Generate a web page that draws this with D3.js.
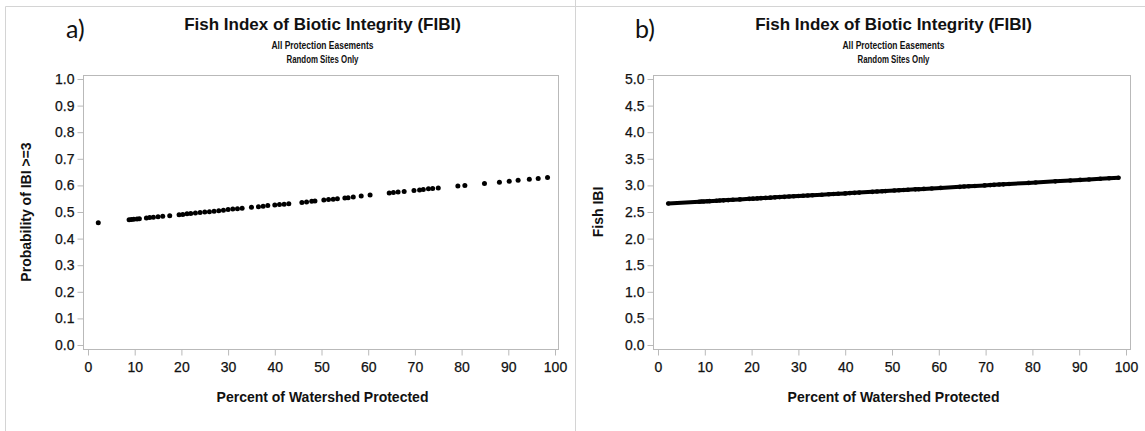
<!DOCTYPE html>
<html>
<head>
<meta charset="utf-8">
<script src="https://cdn.jsdelivr.net/npm/d3@7"></script>
<style>
  html, body { margin: 0; padding: 0; background: #fff; }
  svg { display: block; }
  text { font-family: "Liberation Sans", Arial, sans-serif; fill: #111; }
</style>
</head>
<body>
<svg id="chart" width="1145" height="431"></svg>
<script>
// ---- data ----
const pctProtected = [2.2, 8.8, 9.3, 9.8, 10.5, 11, 12.5, 13.2, 14, 15, 16, 17.5, 19.5, 20.3, 21.2, 22, 23, 24, 25, 26, 27, 28, 29, 30, 31, 32, 33, 35, 36.5, 37.5, 38.5, 40, 41, 42, 43, 45.8, 46.8, 47.9, 48.6, 50.5, 51.5, 52.5, 53.4, 55, 55.7, 56.8, 58.5, 60.4, 64.5, 65.4, 66.4, 67.7, 69.8, 71, 71.8, 72.9, 73.8, 75, 79.2, 80.7, 84.9, 88.1, 90.2, 92.1, 94.5, 96.4, 98.4];
const probIBI = [0.460, 0.471, 0.472, 0.473, 0.474, 0.475, 0.477, 0.479, 0.480, 0.482, 0.484, 0.486, 0.490, 0.491, 0.493, 0.494, 0.496, 0.498, 0.500, 0.501, 0.503, 0.505, 0.507, 0.509, 0.511, 0.512, 0.514, 0.518, 0.520, 0.522, 0.524, 0.526, 0.528, 0.529, 0.531, 0.536, 0.538, 0.540, 0.541, 0.545, 0.547, 0.548, 0.550, 0.553, 0.554, 0.556, 0.560, 0.564, 0.571, 0.573, 0.575, 0.577, 0.581, 0.583, 0.585, 0.587, 0.588, 0.590, 0.598, 0.600, 0.607, 0.612, 0.616, 0.619, 0.623, 0.626, 0.630];
const fishIBI = [2.660, 2.693, 2.696, 2.698, 2.702, 2.704, 2.712, 2.715, 2.719, 2.724, 2.729, 2.737, 2.747, 2.751, 2.756, 2.760, 2.765, 2.770, 2.775, 2.780, 2.785, 2.790, 2.795, 2.800, 2.805, 2.810, 2.815, 2.825, 2.833, 2.838, 2.843, 2.850, 2.855, 2.860, 2.865, 2.879, 2.884, 2.890, 2.893, 2.903, 2.908, 2.913, 2.918, 2.926, 2.929, 2.934, 2.943, 2.953, 2.973, 2.978, 2.983, 2.989, 3.000, 3.006, 3.010, 3.016, 3.020, 3.026, 3.047, 3.055, 3.076, 3.092, 3.103, 3.112, 3.124, 3.134, 3.144];
const xTicks = [0, 10, 20, 30, 40, 50, 60, 70, 80, 90, 100];
const yTicksProb = [0.0, 0.1, 0.2, 0.3, 0.4, 0.5, 0.6, 0.7, 0.8, 0.9, 1.0];
const yTicksFish = [0.0, 0.5, 1.0, 1.5, 2.0, 2.5, 3.0, 3.5, 4.0, 4.5, 5.0];
const titleText = "Fish Index of Biotic Integrity (FIBI)";
const subtitles = ["All Protection Easements", "Random Sites Only"];
const xTitle = "Percent of Watershed Protected";

const svg = d3.select("#chart");
const border = "#d4d4d4";
const frameCol = "#b9b9b9";

// panel borders
svg.append("line").attr("x1", 5.5).attr("x2", 1145).attr("y1", 6.5).attr("y2", 6.5).attr("stroke", border);
svg.append("line").attr("x1", 5.5).attr("x2", 5.5).attr("y1", 6.5).attr("y2", 431).attr("stroke", border);
svg.append("line").attr("x1", 575.5).attr("x2", 575.5).attr("y1", 0).attr("y2", 431).attr("stroke", border);

function styleTicks(sel) {
  sel.selectAll(".tick line").attr("stroke", frameCol);
  sel.selectAll(".tick text").attr("font-size", 14)
    .attr("font-family", "Liberation Sans, Arial, sans-serif")
    .attr("fill", "#111").attr("stroke", "#111").attr("stroke-width", 0.25);
}

function panel(opts) {
  const g = svg.append("g");
  const f = opts.frame;
  const x = d3.scaleLinear().domain([0, 100]).range(opts.xRange);
  const y = d3.scaleLinear().domain(opts.yDomain).range([345, 79]);

  g.append("rect").attr("x", f.x0 + 0.5).attr("y", f.y0 + 0.5)
    .attr("width", f.x1 - f.x0).attr("height", f.y1 - f.y0)
    .attr("fill", "none").attr("stroke", frameCol);

  const yAxis = d3.axisLeft(y).tickValues(opts.yTicks).tickFormat(d3.format(".1f")).tickSize(6).tickPadding(3);
  const ya = g.append("g").attr("transform", `translate(${f.x0 + 0.5},0)`).call(yAxis);
  ya.select(".domain").remove();
  styleTicks(ya);

  const xAxis = d3.axisBottom(x).tickValues(xTicks).tickFormat(d3.format("d")).tickSize(6).tickPadding(7);
  const xa = g.append("g").attr("transform", `translate(0,${f.y1 + 0.5})`).call(xAxis);
  xa.select(".domain").remove();
  styleTicks(xa);

  const cx = (f.x0 + f.x1) / 2 + 2;
  g.append("text").attr("x", cx).attr("y", 30).attr("text-anchor", "middle")
    .attr("font-size", 17).attr("font-weight", "bold").text(titleText);
  subtitles.forEach((s, i) => {
    g.append("text").attr("x", cx).attr("y", 48.5 + i * 14).attr("text-anchor", "middle")
      .attr("font-size", 10.5).attr("font-weight", "bold")
      .attr("textLength", opts.subLen[i]).attr("lengthAdjust", "spacingAndGlyphs").text(s);
  });
  g.append("text").attr("x", opts.tagX).attr("y", 38).attr("font-size", 25)
    .style("font-family", "Lato, 'Open Sans', sans-serif").text(opts.tag);

  g.append("text").attr("x", cx).attr("y", 402).attr("text-anchor", "middle")
    .attr("font-size", 14).attr("font-weight", "bold").text(xTitle);
  g.append("text").attr("transform", `translate(${opts.yTitleX},${(f.y0 + f.y1) / 2}) rotate(-90)`)
    .attr("text-anchor", "middle").attr("font-size", 14).attr("font-weight", "bold").text(opts.yTitle);

  return { g, x, y };
}

// panel a
const pa = panel({
  frame: { x0: 83, x1: 558, y0: 75, y1: 349 },
  xRange: [88, 555], yDomain: [0, 1], yTicks: yTicksProb,
  tag: "a)", tagX: 66, yTitle: "Probability of IBI >=3", yTitleX: 31,
  subLen: [102, 72]
});
pa.g.append("g").selectAll("circle").data(pctProtected).join("circle")
  .attr("cx", (d) => pa.x(d)).attr("cy", (d, i) => pa.y(probIBI[i]))
  .attr("r", 2.5).attr("fill", "#000");

// panel b
const pb = panel({
  frame: { x0: 653, x1: 1130, y0: 75, y1: 349 },
  xRange: [658, 1126], yDomain: [0, 5], yTicks: yTicksFish,
  tag: "b)", tagX: 635, yTitle: "Fish IBI", yTitleX: 603,
  subLen: [102, 72]
});
const line = d3.line().x((d) => pb.x(d)).y((d, i) => pb.y(fishIBI[i]));
pb.g.append("path").datum(pctProtected).attr("d", line)
  .attr("fill", "none").attr("stroke", "#000").attr("stroke-width", 4).attr("stroke-linecap", "round");
pb.g.append("g").selectAll("circle").data(pctProtected).join("circle")
  .attr("cx", (d) => pb.x(d)).attr("cy", (d, i) => pb.y(fishIBI[i]))
  .attr("r", 2.3).attr("fill", "#000");
</script>
</body>
</html>
